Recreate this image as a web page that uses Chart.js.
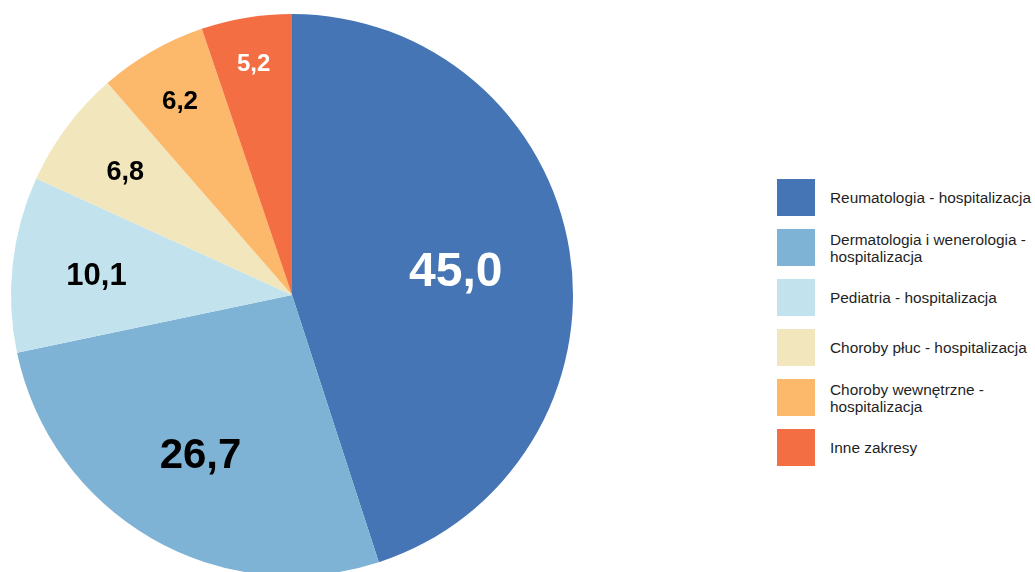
<!DOCTYPE html>
<html lang="pl">
<head>
<meta charset="utf-8">
<title>Struktura hospitalizacji</title>
<script src="https://cdn.jsdelivr.net/npm/chart.js@4.4.1/dist/chart.umd.min.js"></script>
<style>
  html, body {
    margin: 0;
    padding: 0;
    width: 1035px;
    height: 572px;
    overflow: hidden;
    background: #ffffff;
    font-family: "Liberation Sans", Arial, sans-serif;
  }
  #pie-chart {
    position: absolute;
    left: 0;
    top: 0;
  }
  #legend {
    position: absolute;
    left: 777px;
    top: 179px;
    margin: 0;
    padding: 0;
    list-style: none;
  }
  #legend li {
    display: flex;
    align-items: center;
    height: 37px;
    margin-bottom: 13px;
  }
  #legend .box {
    width: 38px;
    height: 37px;
    flex: none;
  }
  #legend .text {
    margin-left: 15px;
    font-size: 15.4px;
    line-height: 17px;
    color: #1f1f1f;
    white-space: nowrap;
  }
</style>
</head>
<body>
<canvas id="pie-chart" width="584" height="572"></canvas>
<ul id="legend"></ul>

<script>
// categories (legend lines split where they wrap)
const categories = [
  ['Reumatologia - hospitalizacja'],
  ['Dermatologia i wenerologia -', 'hospitalizacja'],
  ['Pediatria - hospitalizacja'],
  ['Choroby płuc - hospitalizacja'],
  ['Choroby wewnętrzne -', 'hospitalizacja'],
  ['Inne zakresy']
];
// share in %
const shares = [45.0, 26.7, 10.1, 6.8, 6.2, 5.2];

const sliceColors = ['#4575b4', '#7fb3d5', '#c2e3ee', '#f2e6bc', '#fdb96b', '#f46e43'];
const labelColors = ['#ffffff', '#000000', '#000000', '#000000', '#000000', '#ffffff'];
// how far out along the radius each value label sits
const labelRadius = [0.59, 0.65, 0.70, 0.74, 0.80, 0.84];

function formatValue(v) {
  return v.toFixed(1).replace('.', ',');
}

// bigger slices get bigger numbers
function labelFontSize(v) {
  return Math.round(5.5 + 11.2 * Math.log(v));
}

const sliceLabels = {
  id: 'sliceLabels',
  afterDatasetsDraw(chart) {
    const ctx = chart.ctx;
    const meta = chart.getDatasetMeta(0);
    const values = chart.data.datasets[0].data;
    ctx.save();
    ctx.textAlign = 'center';
    ctx.textBaseline = 'alphabetic';
    meta.data.forEach((arc, i) => {
      const p = arc.getProps(['x', 'y', 'startAngle', 'endAngle', 'outerRadius'], true);
      const mid = (p.startAngle + p.endAngle) / 2;
      const r = p.outerRadius * labelRadius[i];
      const size = labelFontSize(values[i]);
      ctx.font = `bold ${size}px "Liberation Sans", Arial, sans-serif`;
      ctx.fillStyle = labelColors[i];
      // centre the digits themselves, not the em box
      ctx.fillText(formatValue(values[i]), p.x + Math.cos(mid) * r, p.y + Math.sin(mid) * r + size * 0.36);
    });
    ctx.restore();
  }
};

const ctx = document.getElementById('pie-chart').getContext('2d');
new Chart(ctx, {
  type: 'pie',
  data: {
    labels: categories.map(c => c.join(' ')),
    datasets: [{
      data: shares,
      backgroundColor: sliceColors,
      borderWidth: 0,
      radius: 281,
      clip: false
    }]
  },
  options: {
    responsive: false,
    animation: false,
    layout: { padding: { top: 18, bottom: 0, left: 0, right: 0 } },
    plugins: {
      legend: { display: false },
      tooltip: { enabled: false }
    }
  },
  plugins: [sliceLabels]
});

// legend next to the pie
const legendEl = document.getElementById('legend');
categories.forEach((lines, i) => {
  const li = document.createElement('li');
  const box = document.createElement('span');
  box.className = 'box';
  box.style.background = sliceColors[i];
  const text = document.createElement('span');
  text.className = 'text';
  text.innerHTML = lines.join('<br>');
  li.appendChild(box);
  li.appendChild(text);
  legendEl.appendChild(li);
});
</script>
</body>
</html>
